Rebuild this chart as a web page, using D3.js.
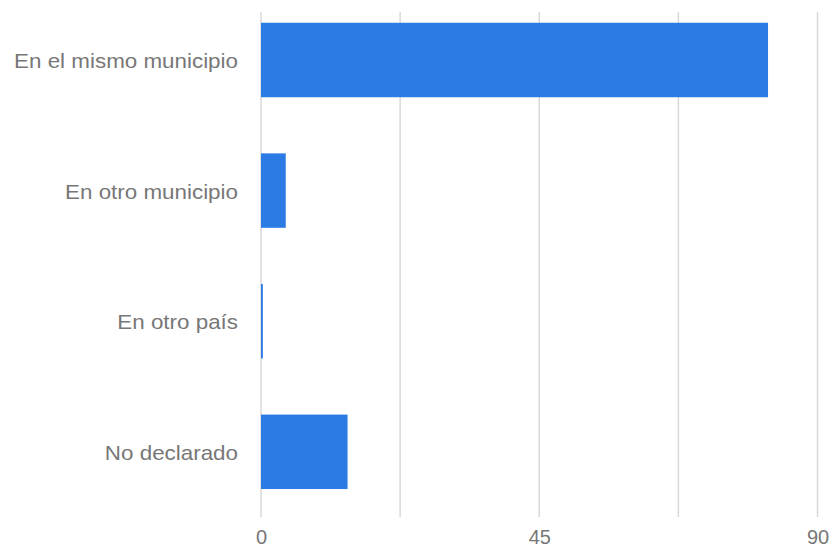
<!DOCTYPE html>
<html>
<head>
<meta charset="utf-8">
<script src="https://cdn.jsdelivr.net/npm/d3@7"></script>
<style>
  html, body { margin: 0; padding: 0; background: #ffffff; }
  svg { display: block; }
</style>
</head>
<body>
<svg id="chart" width="830" height="550"></svg>
<script>
// Lugar de residencia (porcentaje)
const categories = ["En el mismo municipio", "En otro municipio", "En otro país", "No declarado"];
const values = [82.0, 4.0, 0.3, 14.0];
const tickValues = [0, 22.5, 45, 67.5, 90];
const tickLabels = ["0", "", "45", "", "90"];

const svg = d3.select("#chart");
const plot = { left: 261, right: 817.5, top: 12, bottom: 517 };

const x = d3.scaleLinear().domain([0, 90]).range([plot.left, plot.right]);
const y = d3.scaleBand()
  .domain(categories)
  .range([-5.3, 517.1])
  .paddingInner(0.43)
  .paddingOuter(0.215);

const font = "'Liberation Sans', Arial, sans-serif";
const labelColor = "#777777";

// vertical gridlines
svg.append("g")
  .selectAll("line")
  .data(tickValues)
  .join("line")
  .attr("x1", d => x(d))
  .attr("x2", d => x(d))
  .attr("y1", plot.top)
  .attr("y2", plot.bottom)
  .attr("stroke", "#d9d9d9")
  .attr("stroke-width", 1.5);

// bars
svg.append("g")
  .selectAll("rect")
  .data(values)
  .join("rect")
  .attr("x", x(0))
  .attr("y", (d, i) => y(categories[i]))
  .attr("width", d => x(d) - x(0))
  .attr("height", y.bandwidth())
  .attr("fill", "#2c7be5");

// category labels (slightly widened lettering, right-aligned at the axis)
const yAxis = d3.axisLeft(y).tickSize(0).tickPadding(0);
const gy = svg.append("g")
  .attr("transform", `translate(238,1.5)`)
  .call(yAxis);
gy.select(".domain").remove();
gy.selectAll("text")
  .attr("font-family", font)
  .attr("font-size", 20)
  .attr("fill", labelColor)
  .attr("transform", "scale(1.12,1)");

// value axis labels
const xAxis = d3.axisBottom(x)
  .tickValues(tickValues)
  .tickFormat((d, i) => tickLabels[i])
  .tickSize(0)
  .tickPadding(0);
const gx = svg.append("g")
  .attr("transform", `translate(0,530)`)
  .call(xAxis);
gx.select(".domain").remove();
gx.selectAll("text")
  .attr("font-family", font)
  .attr("font-size", 20)
  .attr("fill", labelColor);
</script>
</body>
</html>
